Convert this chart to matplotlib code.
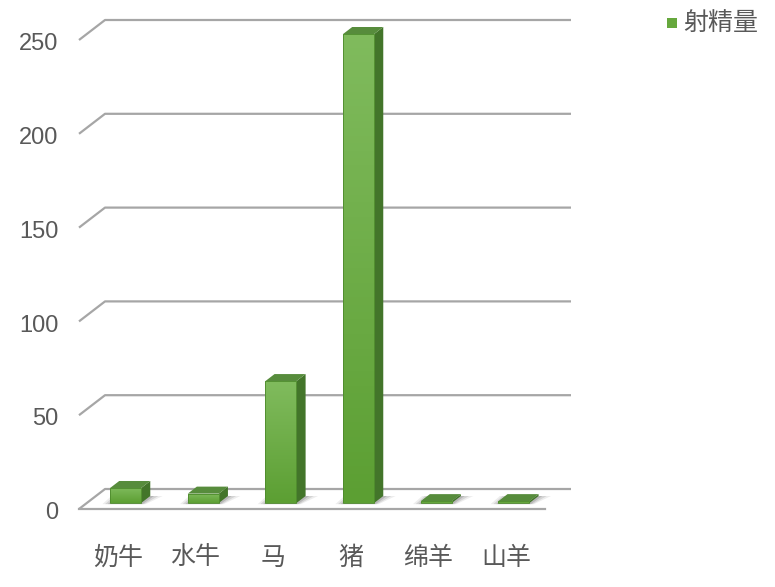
import numpy as np
import matplotlib
matplotlib.use("Agg")
import matplotlib.pyplot as plt
from matplotlib.patches import Polygon, Rectangle
from matplotlib.colors import LinearSegmentedColormap

plt.rcParams["font.family"] = ["Noto Sans CJK SC", "DejaVu Sans"]

# ── DATA ──────────────────────────────────────────────────────────────────────
categories = ["奶牛", "水牛", "马", "猪", "绵羊", "山羊"]
values     = [8, 5, 65, 250, 1, 1]
yticks     = [0, 50, 100, 150, 200, 250]
series     = "射精量"

# ── STIJL ─────────────────────────────────────────────────────────────────────
TEXT   = "#595959"
GRID   = "#a6a6a6"
FRONT_TOP = "#80bb5d"
FRONT_BOT = "#5c9f33"
SIDE   = "#43752a"
TOP    = "#578c3c"

# pseudo-3D: offset of the back wall, in data units
DX = 0.335      # categories
DY = 10.66      # value units
BAR_W = 0.40
D0, D1 = 0.30, 0.65   # bar depth range (0 = front, 1 = back)

fig = plt.figure(figsize=(7.75, 5.87), dpi=100)
ax = fig.add_axes([79 / 775, (587 - 509) / 587, (571 - 79) / 775, (509 - 20) / 587])
ax.set_xlim(-0.5, 5.5 + DX)
ax.set_ylim(0, 250 + DY)
ax.axis("off")

n = len(categories)
x0, x1 = -0.5, n - 0.5

# gridlines: left diagonal + back wall line
for t in yticks:
    ax.plot([x0, x0 + DX, x1 + DX], [t, t + DY, t + DY], color=GRID,
            lw=1.6, clip_on=False, zorder=1, solid_capstyle="butt")
    ax.annotate(f"{t}", (x0, t), xytext=(-15, -3), textcoords="offset points",
                ha="right", va="center", fontsize=17, color=TEXT,
                family=["Liberation Sans", "DejaVu Sans"])
# floor front edge
ax.plot([x0, x1], [0, 0], color=GRID, lw=1.6, clip_on=False, zorder=1)

grad = LinearSegmentedColormap.from_list("g", [FRONT_BOT, FRONT_TOP])
for i, (cat, v) in enumerate(zip(categories, values)):
    fx0 = i - BAR_W / 2 + D0 * DX
    fx1 = i + BAR_W / 2 + D0 * DX
    fy0 = D0 * DY
    fy1 = v + D0 * DY
    ddx = (D1 - D0) * DX
    ddy = (D1 - D0) * DY

    # zachte schaduw op de vloer
    for k, a in enumerate([0.08, 0.12, 0.16]):
        grow = 0.10 - k * 0.035
        sh = Polygon([(fx0 - grow, fy0 - 0.6), (fx1 + grow * 0.6, fy0 - 0.6),
                      (fx1 + ddx + grow * 1.6, fy0 + ddy), (fx0 + ddx - grow, fy0 + ddy)],
                     closed=True, facecolor="#202020", edgecolor="none",
                     alpha=a, zorder=2, clip_on=False)
        ax.add_patch(sh)

    side = Polygon([(fx1, fy0), (fx1 + ddx, fy0 + ddy), (fx1 + ddx, fy1 + ddy), (fx1, fy1)],
                   closed=True, facecolor=SIDE, edgecolor="none", zorder=3, clip_on=False)
    top = Polygon([(fx0, fy1), (fx1, fy1), (fx1 + ddx, fy1 + ddy), (fx0 + ddx, fy1 + ddy)],
                  closed=True, facecolor=TOP, edgecolor="none", zorder=3, clip_on=False)
    ax.add_patch(side)
    ax.add_patch(top)

    front = Rectangle((fx0, fy0), fx1 - fx0, fy1 - fy0, facecolor="none",
                      edgecolor="#4d8a2c", lw=0.6, zorder=4, clip_on=False)
    ax.add_patch(front)
    img = ax.imshow(np.linspace(0, 1, 64).reshape(-1, 1), cmap=grad, origin="lower",
                    extent=[fx0, fx1, fy0, fy1], aspect="auto", zorder=3.5)
    img.set_clip_path(front)

    ax.annotate(cat, (i, 0), xytext=(0, -35), textcoords="offset points",
                ha="center", va="center", fontsize=18, color=TEXT)

ax.set_xlim(-0.5, 5.5 + DX)
ax.set_ylim(0, 250 + DY)

# legend
fig.patches.append(Rectangle((667 / 775, 1 - 28 / 587), 10 / 775, 10 / 587,
                             transform=fig.transFigure, facecolor="#66a83d",
                             edgecolor="none"))
fig.text(683 / 775, 1 - 23 / 587, series, ha="left", va="center",
         fontsize=18, color=TEXT)

fig.savefig("out.png", dpi=100)
